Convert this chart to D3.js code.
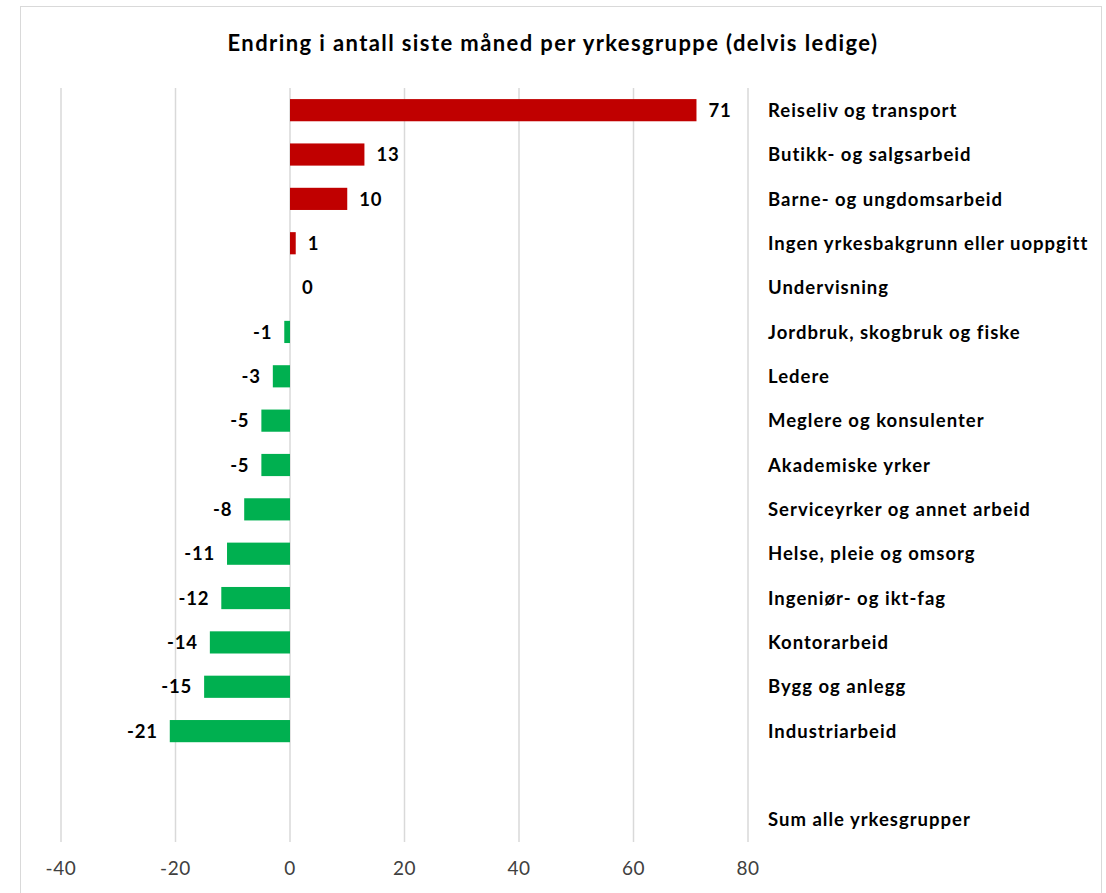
<!DOCTYPE html>
<html>
<head>
<meta charset="utf-8">
<script src="https://cdn.jsdelivr.net/npm/d3@7"></script>
<style>
  body { margin: 0; background: #fff; }
  svg { display: block; font-family: Lato, "Open Sans", sans-serif; }
</style>
</head>
<body>
<div id="chart"></div>
<script>
// categories top to bottom; blank slot before the sum row
const categories = [
  "Reiseliv og transport",
  "Butikk- og salgsarbeid",
  "Barne- og ungdomsarbeid",
  "Ingen yrkesbakgrunn eller uoppgitt",
  "Undervisning",
  "Jordbruk, skogbruk og fiske",
  "Ledere",
  "Meglere og konsulenter",
  "Akademiske yrker",
  "Serviceyrker og annet arbeid",
  "Helse, pleie og omsorg",
  "Ingeniør- og ikt-fag",
  "Kontorarbeid",
  "Bygg og anlegg",
  "Industriarbeid",
  "",
  "Sum alle yrkesgrupper"
];
const values = [71, 13, 10, 1, 0, -1, -3, -5, -5, -8, -11, -12, -14, -15, -21, null, null];
const xTicks = [-40, -20, 0, 20, 40, 60, 80];

const width = 1106;
const height = 893;

const data = categories.map((c, i) => ({ key: i, name: c, value: values[i] }));

const svg = d3.select("#chart")
  .append("svg")
    .attr("width", width)
    .attr("height", height);

// chart border
svg.append("rect")
  .attr("x", 20.5).attr("y", 6.5)
  .attr("width", 1081).attr("height", 900)
  .attr("fill", "#fff")
  .attr("stroke", "#d9d9d9");

const x = d3.scaleLinear().domain([-40, 80]).range([61, 748]);
const y = d3.scaleBand().domain(data.map(d => d.key)).range([88, 842]).paddingInner(0.5).paddingOuter(0.25);

// title
svg.append("text")
  .attr("x", 553).attr("y", 51)
  .attr("text-anchor", "middle")
  .attr("font-size", 22).attr("font-weight", "bold")
  .attr("letter-spacing", 1.4)
  .attr("fill", "#000")
  .text("Endring i antall siste måned per yrkesgruppe (delvis ledige)");

// gridlines
svg.append("g")
  .selectAll("line")
  .data(xTicks)
  .join("line")
    .attr("x1", d => x(d)).attr("x2", d => x(d))
    .attr("y1", 88).attr("y2", 842)
    .attr("stroke", "#d9d9d9").attr("stroke-width", 1.5);

// axis tick labels
svg.append("g")
  .selectAll("text")
  .data(xTicks)
  .join("text")
    .attr("x", d => x(d))
    .attr("y", 875)
    .attr("text-anchor", "middle")
    .attr("font-size", 19)
    .attr("letter-spacing", 0.6)
    .attr("fill", "#404040")
    .text(d => d);

const bars = data.filter(d => d.value !== null);

svg.append("g")
  .selectAll("rect")
  .data(bars)
  .join("rect")
    .attr("x", d => x(Math.min(0, d.value)))
    .attr("y", d => y(d.key))
    .attr("width", d => Math.abs(x(d.value) - x(0)))
    .attr("height", y.bandwidth())
    .attr("fill", d => d.value > 0 ? "#c00000" : "#00b050");

// value labels
svg.append("g")
  .selectAll("text")
  .data(bars)
  .join("text")
    .attr("x", d => d.value >= 0 ? x(d.value) + 12 : x(d.value) - 12)
    .attr("y", d => y(d.key) + y.bandwidth() / 2)
    .attr("dy", "0.36em")
    .attr("text-anchor", d => d.value >= 0 ? "start" : "end")
    .attr("font-size", 18.5).attr("font-weight", "bold")
    .attr("letter-spacing", 0.8)
    .attr("fill", "#000")
    .text(d => d.value);

// category labels on the right
svg.append("g")
  .selectAll("text")
  .data(data.filter(d => d.name !== ""))
  .join("text")
    .attr("x", 768)
    .attr("y", d => y(d.key) + y.bandwidth() / 2)
    .attr("dy", "0.36em")
    .attr("font-size", 18.5).attr("font-weight", "bold")
    .attr("letter-spacing", 1)
    .attr("fill", "#000")
    .text(d => d.name);
</script>
</body>
</html>
